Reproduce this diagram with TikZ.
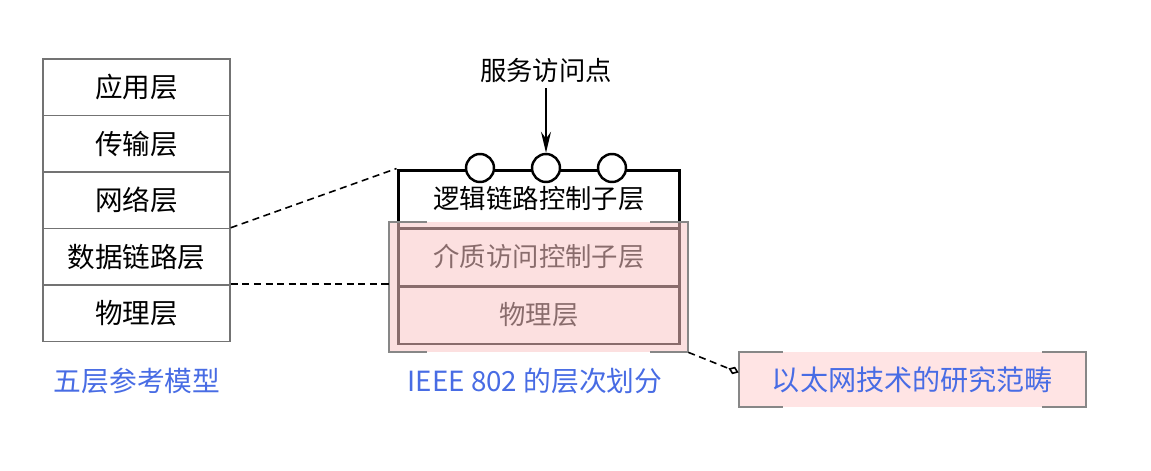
\documentclass[tikz,border=0pt]{standalone}
\usepackage{fontspec}
\setmainfont{Noto Sans CJK SC}
\usepackage{tikz}
\usetikzlibrary{arrows.meta,positioning}
\definecolor{capblue}{RGB}{72,108,228}
\definecolor{ovpink}{RGB}{250,198,198}
\definecolor{boxpink}{RGB}{255,228,228}
\definecolor{brgray}{RGB}{135,135,135}

\begin{document}
\begin{tikzpicture}[x=0.02cm,y=-0.02cm,
		lay/.style={rectangle,draw=black!55,line width=0.85pt,minimum width=3.74cm,minimum height=1.13cm,font=\fontsize{15.7}{18}\selectfont},
		sub/.style={rectangle,draw=black,line width=1.7pt,minimum width=5.64cm,minimum height=1.16cm,font=\fontsize{15}{18}\selectfont},
		sap/.style={circle,draw=black,fill=white,line width=1.4pt,minimum size=0.56cm,inner sep=0pt},
		bluecap/.style={text=capblue,font=\fontsize{15.8}{18}\selectfont},
		brk/.style={draw=brgray,line width=1.1pt},
		dsh/.style={line width=0.9pt,dash pattern=on 4pt off 2.6pt}]
	\useasboundingbox (0,0) rectangle (1151,470);

	\node[lay] (l1) at (136.5,87.25)  {应用层};
	\node[lay] (l2) at (136.5,143.75) {传输层};
	\node[lay] (l3) at (136.5,200.25) {网络层};
	\node[lay] (l4) at (136.5,256.75) {数据链路层};
	\node[lay] (l5) at (136.5,313.25) {物理层};
	\node[bluecap] (m1) at (137,381) {五层参考模型};

	\node[sub] (llc) at (539,199) {逻辑链路控制子层};
	\node[sub] (mac) at (539,257) {介质访问控制子层};
	\node[sub] (phy) at (539,315) {物理层};
	\node[sap] (c1) at (480,168) {};
	\node[sap] (c2) at (546,168) {};
	\node[sap] (c3) at (612,168) {};
	\node[font=\fontsize{15}{18}\selectfont] (sp) at (546,70) {服务访问点};
	\draw[line width=0.8pt,-{Stealth[length=0.42cm,width=0.2cm]}] (sp) -- (c2);

	\node[fill=ovpink,fill opacity=0.55,minimum width=5.98cm,minimum height=2.6cm] (ov) at (538.5,287) {};
	\draw[brk] (ov.north west) ++(38,0) -| (ov.south west) -- ++(38,0);
	\draw[brk] (ov.north east) ++(-38,0) -| (ov.south east) -- ++(-38,0);
	\node[bluecap] (m2) at (535,381) {IEEE 802 的层次划分};

	\node[fill=boxpink,minimum width=6.94cm,minimum height=1.1cm,text=capblue,font=\fontsize{16}{19}\selectfont] (rg) at (912.5,379.5) {以太网技术的研究范畴};
	\draw[brk] (rg.north west) ++(44,0) -| (rg.south west) -- ++(44,0);
	\draw[brk] (rg.north east) ++(-44,0) -| (rg.south east) -- ++(-44,0);

	\draw[dsh] (l4.north east) -- (llc.north west);
	\draw[dsh] (l5.north east) -- (l5.north east -| ov.west);
	\draw[dsh,-{Diamond[open,length=0.22cm,width=0.16cm]}] (ov.south east) -- ([yshift=0.14cm]rg.west);
\end{tikzpicture}
\end{document}
